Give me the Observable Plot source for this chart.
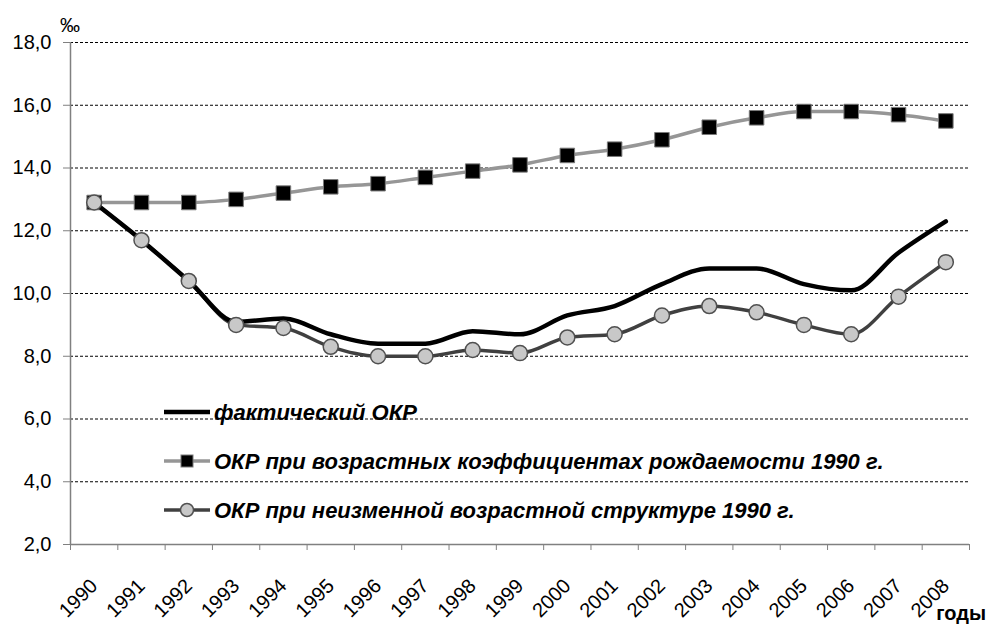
<!DOCTYPE html>
<html><head><meta charset="utf-8">
<script src="https://cdn.jsdelivr.net/npm/d3@7"></script>
<script src="https://cdn.jsdelivr.net/npm/@observablehq/plot@0.6"></script>
<style>
html,body{margin:0;padding:0;background:#fff;overflow:hidden;}
#chart{position:relative;width:990px;height:625px;}
</style>
</head><body><div id="chart"></div>
<script>
const years = [1990,1991,1992,1993,1994,1995,1996,1997,1998,1999,2000,2001,2002,2003,2004,2005,2006,2007,2008];
const actual = [12.9,11.7,10.4,9.1,9.2,8.7,8.4,8.4,8.8,8.7,9.3,9.6,10.3,10.8,10.8,10.3,10.1,11.3,12.3];
const rates1990 = [12.9,12.9,12.9,13.0,13.2,13.4,13.5,13.7,13.9,14.1,14.4,14.6,14.9,15.3,15.6,15.8,15.8,15.7,15.5];
const struct1990 = [12.9,11.7,10.4,9.0,8.9,8.3,8.0,8.0,8.2,8.1,8.6,8.7,9.3,9.6,9.4,9.0,8.7,9.9,11.0];
const yTicks = [2,4,6,8,10,12,14,16,18];
const seriesNames = ["фактический ОКР","ОКР при возрастных коэффициентах рождаемости 1990 г.","ОКР при неизменной возрастной структуре 1990 г."];

const dA = years.map((y,i)=>({year:y, v:actual[i]}));
const dR = years.map((y,i)=>({year:y, v:rates1990[i]}));
const dS = years.map((y,i)=>({year:y, v:struct1990[i]}));
const bounds = years.map(y=>y-0.5).concat([years[years.length-1]+0.5]);
const font = "'Liberation Sans', Arial, sans-serif";

const plot = Plot.plot({
  width: 990, height: 625,
  marginLeft: 70, marginRight: 21, marginTop: 42, marginBottom: 81,
  x: {domain: [bounds[0], bounds[bounds.length-1]]},
  y: {domain: [2, 18]},
  style: {fontFamily: font, fontSize: "20px", color: "#000", background: "#fff"},
  marks: [
    Plot.gridY(yTicks.filter(t=>t>2), {stroke:"#000", strokeOpacity:1, strokeWidth:1, strokeDasharray:"3,2"}),
    Plot.ruleX([bounds[0]], {stroke:"#808080", strokeWidth:1.5}),
    Plot.ruleY([2], {stroke:"#808080", strokeWidth:1.5}),
    Plot.axisY({ticks: yTicks, tickSize: 7, tickPadding: 12, stroke:"#808080", fill:"#000", fontSize: 20,
      tickFormat: d=>d.toFixed(1).replace(".", ","), label: null}),
    Plot.axisX({ticks: bounds, tickSize: 6, stroke:"#808080", tickFormat: ()=>"", label: null}),
    Plot.axisX({ticks: years, tickSize: 0, tickPadding: 30, dy: 8, tickRotate: -45, fill:"#000", fontSize: 20,
      tickFormat: d=>String(d), label: null}),
    Plot.line(dR, {x:"year", y:"v", stroke:"#969696", strokeWidth:3.5, curve:"monotone-x"}),
    Plot.dot(dR, {x:"year", y:"v", symbol:"square", r:8.2, fill:"#000", stroke:"#7a7a7a", strokeWidth:1}),
    Plot.line(dS, {x:"year", y:"v", stroke:"#404040", strokeWidth:3.5, curve:"monotone-x"}),
    Plot.line(dA, {x:"year", y:"v", stroke:"#000", strokeWidth:4.5, curve:"monotone-x"}),
    Plot.dot(dS, {x:"year", y:"v", r:7.5, fill:"#c8c8c8", stroke:"#505050", strokeWidth:1.5})
  ]
});
document.getElementById("chart").appendChild(plot);

const svg = d3.select(plot);
svg.append("text").attr("x", 60).attr("y", 32).attr("text-anchor","start").attr("font-family", font).attr("font-size", 20).attr("fill","#000").text("‰");
svg.append("text").attr("x", 986).attr("y", 620).attr("text-anchor","end").attr("font-family", font)
  .attr("font-size", 20).attr("font-weight","bold").attr("fill","#000").text("годы");

const lg = svg.append("g").attr("font-family", font).attr("font-size", 22).attr("font-weight","bold").attr("font-style","italic").attr("text-anchor","start");
const rows = [
  {y:412, stroke:"#000", w:4.5, marker:null},
  {y:461, stroke:"#969696", w:3.5, marker:"square"},
  {y:510, stroke:"#404040", w:3.5, marker:"circle"}
];
rows.forEach((r,i)=>{
  lg.append("line").attr("x1",164).attr("x2",210).attr("y1",r.y).attr("y2",r.y).attr("stroke",r.stroke).attr("stroke-width",r.w);
  if (r.marker==="square") lg.append("rect").attr("x",181).attr("y",r.y-6).attr("width",12).attr("height",12).attr("fill","#000").attr("stroke","#7a7a7a");
  if (r.marker==="circle") lg.append("circle").attr("cx",187).attr("cy",r.y).attr("r",6.5).attr("fill","#c8c8c8").attr("stroke","#505050").attr("stroke-width",1.5);
  lg.append("text").attr("x",214).attr("y",r.y+8).attr("fill","#000").text(seriesNames[i]);
});
</script>
</body></html>
